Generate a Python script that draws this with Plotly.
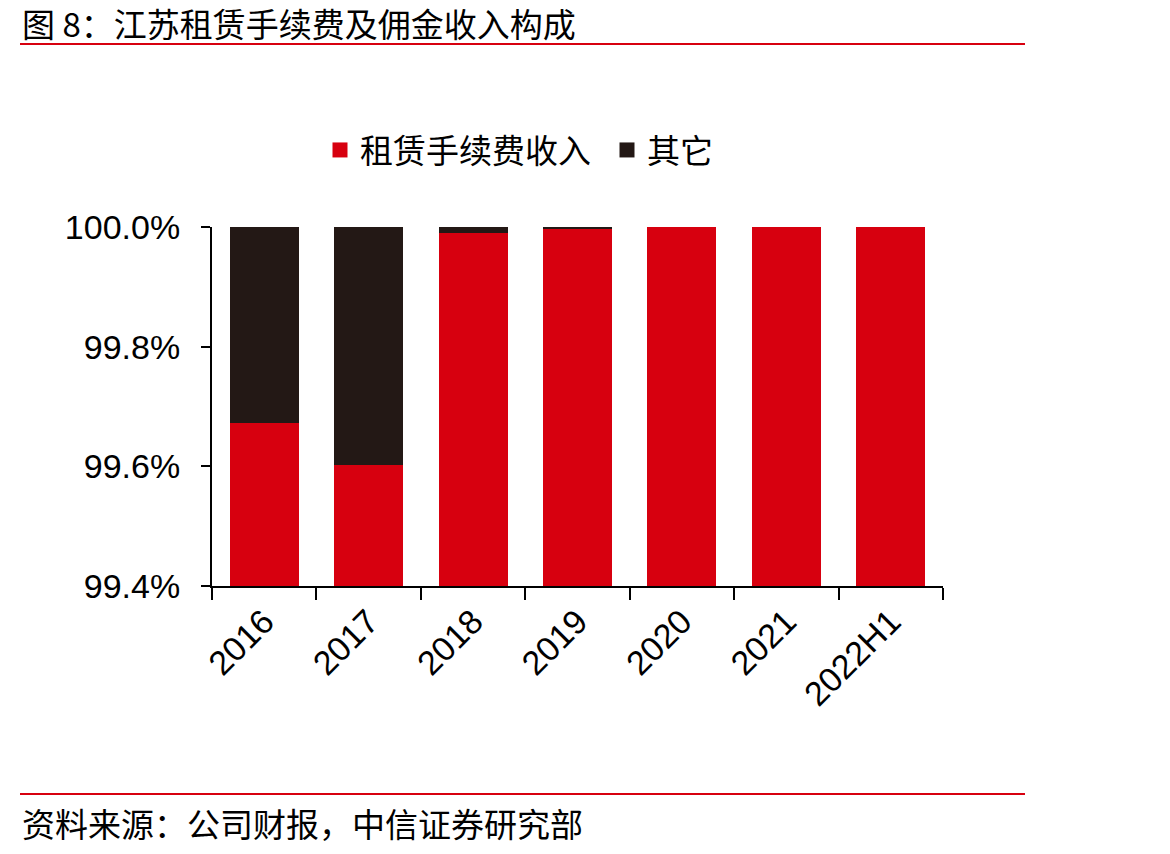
import plotly.graph_objs as go

years = ['2016', '2017', '2018', '2019', '2020', '2021', '2022H1']
feeIncome = [99.672, 99.602, 99.99, 99.996, 100.0, 100.0, 100.0]
otherIncome = [0.328, 0.398, 0.01, 0.004, 0.0, 0.0, 0.0]
yTicks = [99.4, 99.6, 99.8, 100.0]
yTickText = ['99.4%', '99.6%', '99.8%', '100.0%']

RED = '#D7000F'
DARK = '#231815'
FONT = 'Liberation Sans, Arial, Noto Sans CJK SC'

# plot area in pixels
L, R, T, B = 212, 943, 227, 586
W, H = 1170, 854


def px(x):
    return (x - L) / (R - L)


def py(y):
    return (B - y) / (B - T)


data = [go.Bar(x=years, y=feeIncome, name='租赁手续费收入', showlegend=False,
               marker=dict(color=RED, line=dict(width=0)), width=0.66),
        go.Bar(x=years, y=otherIncome, name='其它', showlegend=False,
               marker=dict(color=DARK, line=dict(width=0)), width=0.66)]

# legend-only entries so the legend squares match the reference size
for name, color in [('租赁手续费收入', RED), ('其它', DARK)]:
    data.append(go.Scatter(x=[None], y=[None], mode='markers', name=name,
                           marker=dict(symbol='square', size=15, color=color)))

layout = go.Layout(
    width=W, height=H,
    barmode='stack',
    paper_bgcolor='white', plot_bgcolor='white',
    font=dict(family=FONT, size=33, color='black'),
    margin=dict(l=L, r=W - R, t=T, b=H - B, pad=0),
    showlegend=True,
    legend=dict(orientation='h', x=px(320), xanchor='left', y=py(150), yanchor='middle',
                font=dict(size=33, family='Noto Sans CJK SC'), itemwidth=30,
                entrywidth=242, entrywidthmode='pixels',
                traceorder='normal', bgcolor='rgba(0,0,0,0)'),
    xaxis=dict(type='category', showline=True, linecolor='black', linewidth=2,
               ticks='outside', ticklen=12, tickwidth=2, tickcolor='black',
               tickson='boundaries', tickangle=-45, showgrid=False,
               tickfont=dict(size=34)),
    yaxis=dict(range=[99.4, 100.0], tickvals=yTicks, ticktext=yTickText,
               showline=True, linecolor='black', linewidth=2,
               ticks='outside', ticklen=9, tickwidth=2, tickcolor='black',
               ticklabelstandoff=14,
               showgrid=False, zeroline=False, tickfont=dict(size=34)),
    shapes=[dict(type='line', xref='paper', yref='paper',
                 x0=px(20), x1=px(1025), y0=py(44), y1=py(44),
                 line=dict(color=RED, width=2)),
            dict(type='line', xref='paper', yref='paper',
                 x0=px(20), x1=px(1025), y0=py(794), y1=py(794),
                 line=dict(color=RED, width=2))],
    annotations=[dict(text='图 8：江苏租赁手续费及佣金收入构成', xref='paper', yref='paper',
                      x=px(20), y=py(23), xanchor='left', yanchor='middle', showarrow=False,
                      font=dict(size=33, family='Noto Sans CJK SC', color='black')),
                 dict(text='资料来源：公司财报，中信证券研究部', xref='paper', yref='paper',
                      x=px(20), y=py(823), xanchor='left', yanchor='middle', showarrow=False,
                      font=dict(size=33, family='Noto Sans CJK SC', color='black'))])

fig = go.Figure(data, layout)
# drop the default page margin so the figure sits at the window's top-left corner
fig.write_html('out.html', config={'displayModeBar': False},
               post_script="document.body.style.margin='0';")
